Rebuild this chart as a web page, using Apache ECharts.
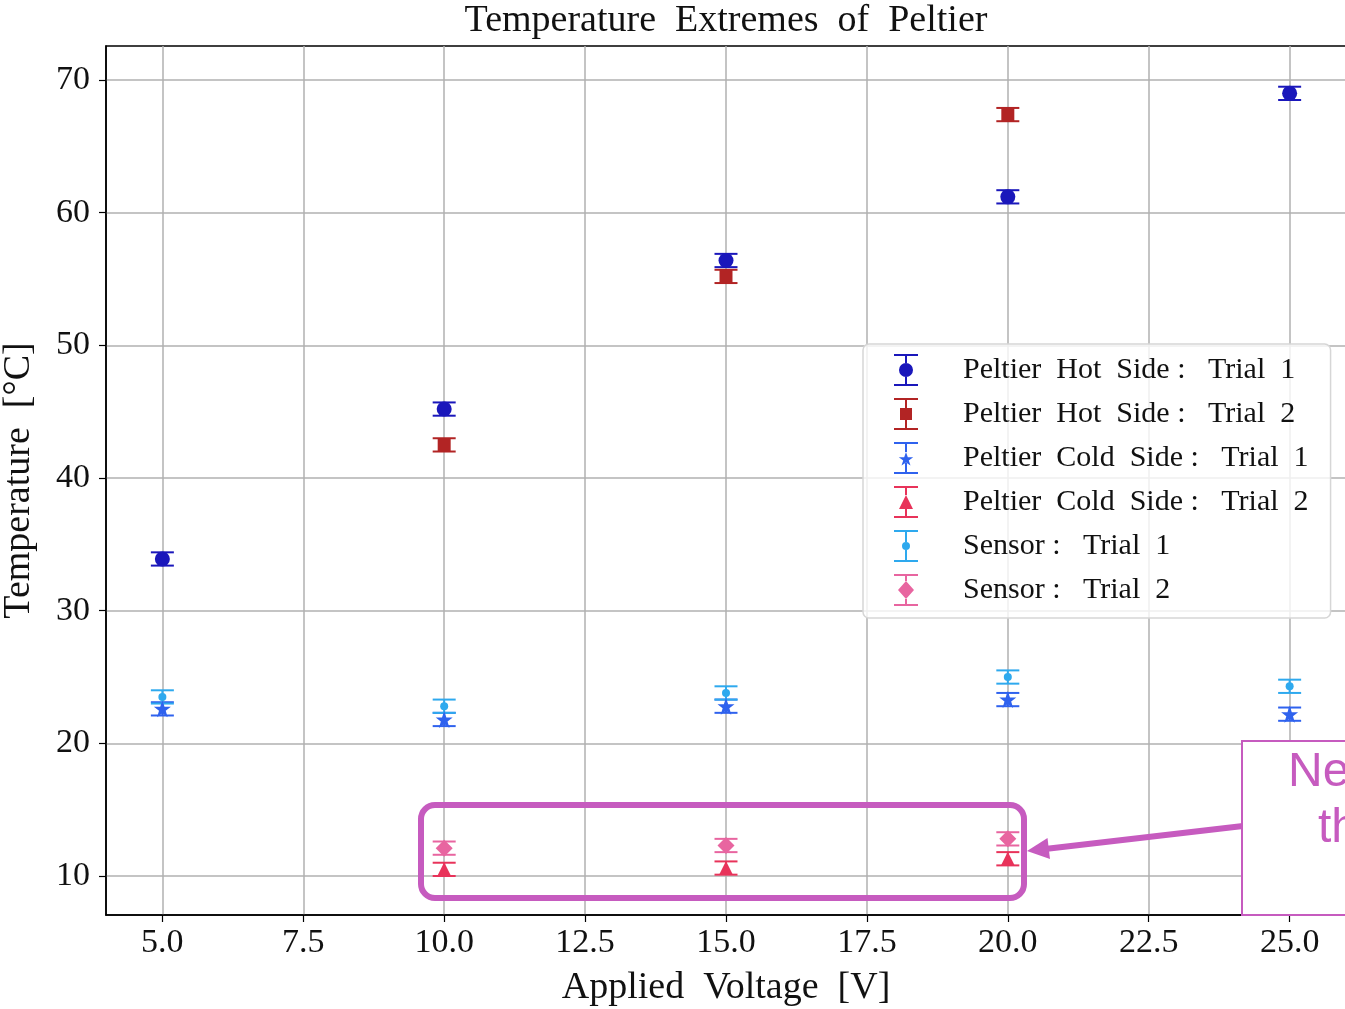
<!DOCTYPE html>
<html>
<head>
<meta charset="utf-8">
<script src="https://cdn.jsdelivr.net/npm/echarts@6/dist/echarts.min.js"></script>
<style>
  html, body { margin: 0; padding: 0; background: #fff; }
  #chart { width: 1345px; height: 1009px; }
</style>
</head>
<body>
<div id="chart"></div>
<script>
// applied voltage [V]
var voltage = [5, 10, 15, 20, 25];

// temperatures [°C], null = not measured
var hotTrial1 = [33.9, 45.2, 56.4, 61.2, 69.0];
var hotTrial2 = [null, 42.5, 55.2, 67.4, null];
var coldTrial1 = [22.6, 21.8, 22.8, 23.3, 22.2];
var coldTrial2 = [null, 10.5, 10.6, 11.3, null];
var sensorTrial1 = [23.5, 22.8, 23.8, 25.0, 24.3];
var sensorTrial2 = [null, 12.1, 12.3, 12.8, null];

// error half-widths
var hotErr1 = [0.5, 0.5, 0.5, 0.5, 0.5];
var hotErr2 = [0.5, 0.5, 0.5, 0.5, 0.5];
var coldErr1 = [0.5, 0.5, 0.5, 0.5, 0.5];
var coldErr2 = [0.5, 0.5, 0.5, 0.5, 0.5];
var sensorErr1 = [0.5, 0.5, 0.5, 0.5, 0.5];
var sensorErr2 = [0.5, 0.5, 0.5, 0.5, 0.5];

var xTicks = [5, 7.5, 10, 12.5, 15, 17.5, 20, 22.5, 25];
var yTicks = [10, 20, 30, 40, 50, 60, 70];

var serif = "'Liberation Serif', 'DejaVu Serif', serif";

// marker shapes
var starPath = 'path://M12,0 L14.9,8.3 L23.4,8.3 L16.5,13.4 L19.1,21.7 L12,16.6 L4.9,21.7 L7.5,13.4 L0.6,8.3 L9.1,8.3 Z';

// legend icon = errorbar caps + stem + marker, box 24 x 32
function legendIcon(marker, top, bottom) {
    return 'path://M0,0 L24,0 L24,2 L0,2 Z M0,30 L24,30 L24,32 L0,32 Z ' +
        'M11,2 L13,2 L13,' + top + ' L11,' + top + ' Z ' +
        'M11,' + bottom + ' L13,' + bottom + ' L13,30 L11,30 Z ' + marker;
}

var groups = [
    {name: 'Peltier  Hot  Side :   Trial  1', y: hotTrial1, err: hotErr1, color: '#1a17bb',
        symbol: 'circle', size: 15,
        icon: legendIcon('M5,16 A7,7 0 1 1 19,16 A7,7 0 1 1 5,16 Z', 9, 23)},
    {name: 'Peltier  Hot  Side :   Trial  2', y: hotTrial2, err: hotErr2, color: '#b22424',
        symbol: 'rect', size: 13,
        icon: legendIcon('M6,10 L18,10 L18,22 L6,22 Z', 10, 22)},
    {name: 'Peltier  Cold  Side :   Trial  1', y: coldTrial1, err: coldErr1, color: '#2f62ee',
        symbol: starPath, size: 17,
        icon: legendIcon('M12,10 L13.8,15.2 L19.2,15.2 L14.8,18.4 L16.5,23.6 L12,20.4 L7.5,23.6 L9.2,18.4 L4.8,15.2 L10.2,15.2 Z', 10, 21)},
    {name: 'Peltier  Cold  Side :   Trial  2', y: coldTrial2, err: coldErr2, color: '#e8335a',
        symbol: 'triangle', size: 14,
        icon: legendIcon('M12,9 L19,23 L5,23 Z', 9, 23)},
    {name: 'Sensor :   Trial  1', y: sensorTrial1, err: sensorErr1, color: '#2ea9ee',
        symbol: 'circle', size: 8,
        icon: legendIcon('M8,16 A4,4 0 1 1 16,16 A4,4 0 1 1 8,16 Z', 12, 20)},
    {name: 'Sensor :   Trial  2', y: sensorTrial2, err: sensorErr2, color: '#e865a0',
        symbol: 'diamond', size: 17,
        icon: legendIcon('M12,7 L20,16 L12,25 L4,16 Z', 7, 25)}
];

function errorItem(params, api) {
    var x = api.value(0), y = api.value(1), e = api.value(2);
    var hi = api.coord([x, y + e]);
    var lo = api.coord([x, y - e]);
    var w = 11.5;
    var style = {stroke: api.visual('color'), lineWidth: 2, fill: null};
    return {
        type: 'group',
        children: [
            {type: 'line', shape: {x1: hi[0], y1: hi[1], x2: lo[0], y2: lo[1]}, style: style},
            {type: 'line', shape: {x1: hi[0] - w, y1: hi[1], x2: hi[0] + w, y2: hi[1]}, style: style},
            {type: 'line', shape: {x1: lo[0] - w, y1: lo[1], x2: lo[0] + w, y2: lo[1]}, style: style}
        ]
    };
}

var series = [];
groups.forEach(function (g) {
    var pts = [], bars = [];
    for (var i = 0; i < voltage.length; i++) {
        if (g.y[i] == null) continue;
        pts.push([voltage[i], g.y[i]]);
        bars.push([voltage[i], g.y[i], g.err[i]]);
    }
    series.push({
        name: g.name,
        type: 'custom',
        renderItem: errorItem,
        color: g.color,
        data: bars,
        z: 3
    });
    series.push({
        name: g.name,
        type: 'scatter',
        symbol: g.symbol,
        symbolSize: g.size,
        itemStyle: {color: g.color, opacity: 1},
        data: pts,
        z: 4
    });
});

var chart = echarts.init(document.getElementById('chart'), null, {renderer: 'canvas'});

var annColor = '#c65bbf';

var option = {
    backgroundColor: '#fff',
    animation: false,
    title: {
        text: 'Temperature  Extremes  of  Peltier',
        left: 726,
        top: 2,
        padding: 0,
        textAlign: 'center',
        textStyle: {fontFamily: serif, fontWeight: 'normal', fontSize: 38, color: '#111'}
    },
    grid: {
        left: 106, top: 46, right: -1, bottom: 94,
        show: true, borderColor: '#000', borderWidth: 1.5,
        containLabel: false,
        outerBoundsMode: 'none'
    },
    legend: {
        orient: 'vertical',
        left: 863, top: 344,
        padding: [10, 22, 12, 31],
        itemGap: 12,
        itemWidth: 24, itemHeight: 32,
        backgroundColor: 'rgba(255,255,255,0.8)',
        borderColor: '#d6d6d6', borderWidth: 1.5, borderRadius: 6,
        selectedMode: false,
        data: groups.map(function (g) { return {name: g.name, icon: g.icon}; }),
        textStyle: {fontFamily: serif, fontSize: 30, color: '#111', padding: [0, 0, 0, 40]}
    },
    xAxis: {
        type: 'value',
        min: 4, max: 26,
        name: 'Applied  Voltage  [V]',
        nameLocation: 'middle',
        nameGap: 54,
        nameTextStyle: {fontFamily: serif, fontSize: 38, color: '#111'},
        axisLine: {show: true, lineStyle: {color: '#000', width: 1.5}},
        axisTick: {show: true, length: 7, lineStyle: {color: '#000', width: 1.2}, customValues: xTicks},
        axisLabel: {
            fontFamily: serif, fontSize: 34, color: '#111', margin: 11,
            customValues: xTicks,
            formatter: function (v) { return v.toFixed(1); }
        },
        splitLine: {show: true, lineStyle: {color: '#b0b0b0', width: 1.5}}
    },
    yAxis: {
        type: 'value',
        min: 7.06, max: 72.57,
        name: 'Temperature  [°C]',
        nameLocation: 'middle',
        nameGap: 68,
        nameTextStyle: {fontFamily: serif, fontSize: 38, color: '#111'},
        axisLine: {show: true, lineStyle: {color: '#000', width: 1.5}},
        axisTick: {show: true, length: 7, lineStyle: {color: '#000', width: 1.2}, customValues: yTicks},
        axisLabel: {
            fontFamily: serif, fontSize: 34, color: '#111', margin: 16,
            customValues: yTicks
        },
        splitLine: {show: true, lineStyle: {color: '#b0b0b0', width: 1.5}}
    },
    series: series,
    graphic: [
        {
            type: 'rect', z: 100,
            shape: {x: 421, y: 805, width: 603, height: 93, r: 14},
            style: {fill: null, stroke: annColor, lineWidth: 6}
        },
        {
            type: 'line', z: 100,
            shape: {x1: 1243, y1: 826, x2: 1045, y2: 849},
            style: {stroke: annColor, lineWidth: 6}
        },
        {
            type: 'polygon', z: 100,
            shape: {points: [[1027, 851], [1050, 859], [1047.5, 838]]},
            style: {fill: annColor}
        },
        {
            type: 'rect', z: 100,
            shape: {x: 1242, y: 741, width: 120, height: 174},
            style: {fill: '#fff', stroke: annColor, lineWidth: 2}
        },
        {
            type: 'text', z: 101,
            style: {x: 1288, y: 773, text: 'Ne', fill: annColor, verticalAlign: 'middle',
                font: "48px 'Liberation Sans', Arial, sans-serif"}
        },
        {
            type: 'text', z: 101,
            style: {x: 1318, y: 829, text: 'th', fill: annColor, verticalAlign: 'middle',
                font: "48px 'Liberation Sans', Arial, sans-serif"}
        }
    ]
};

chart.setOption(option);
</script>
</body>
</html>
